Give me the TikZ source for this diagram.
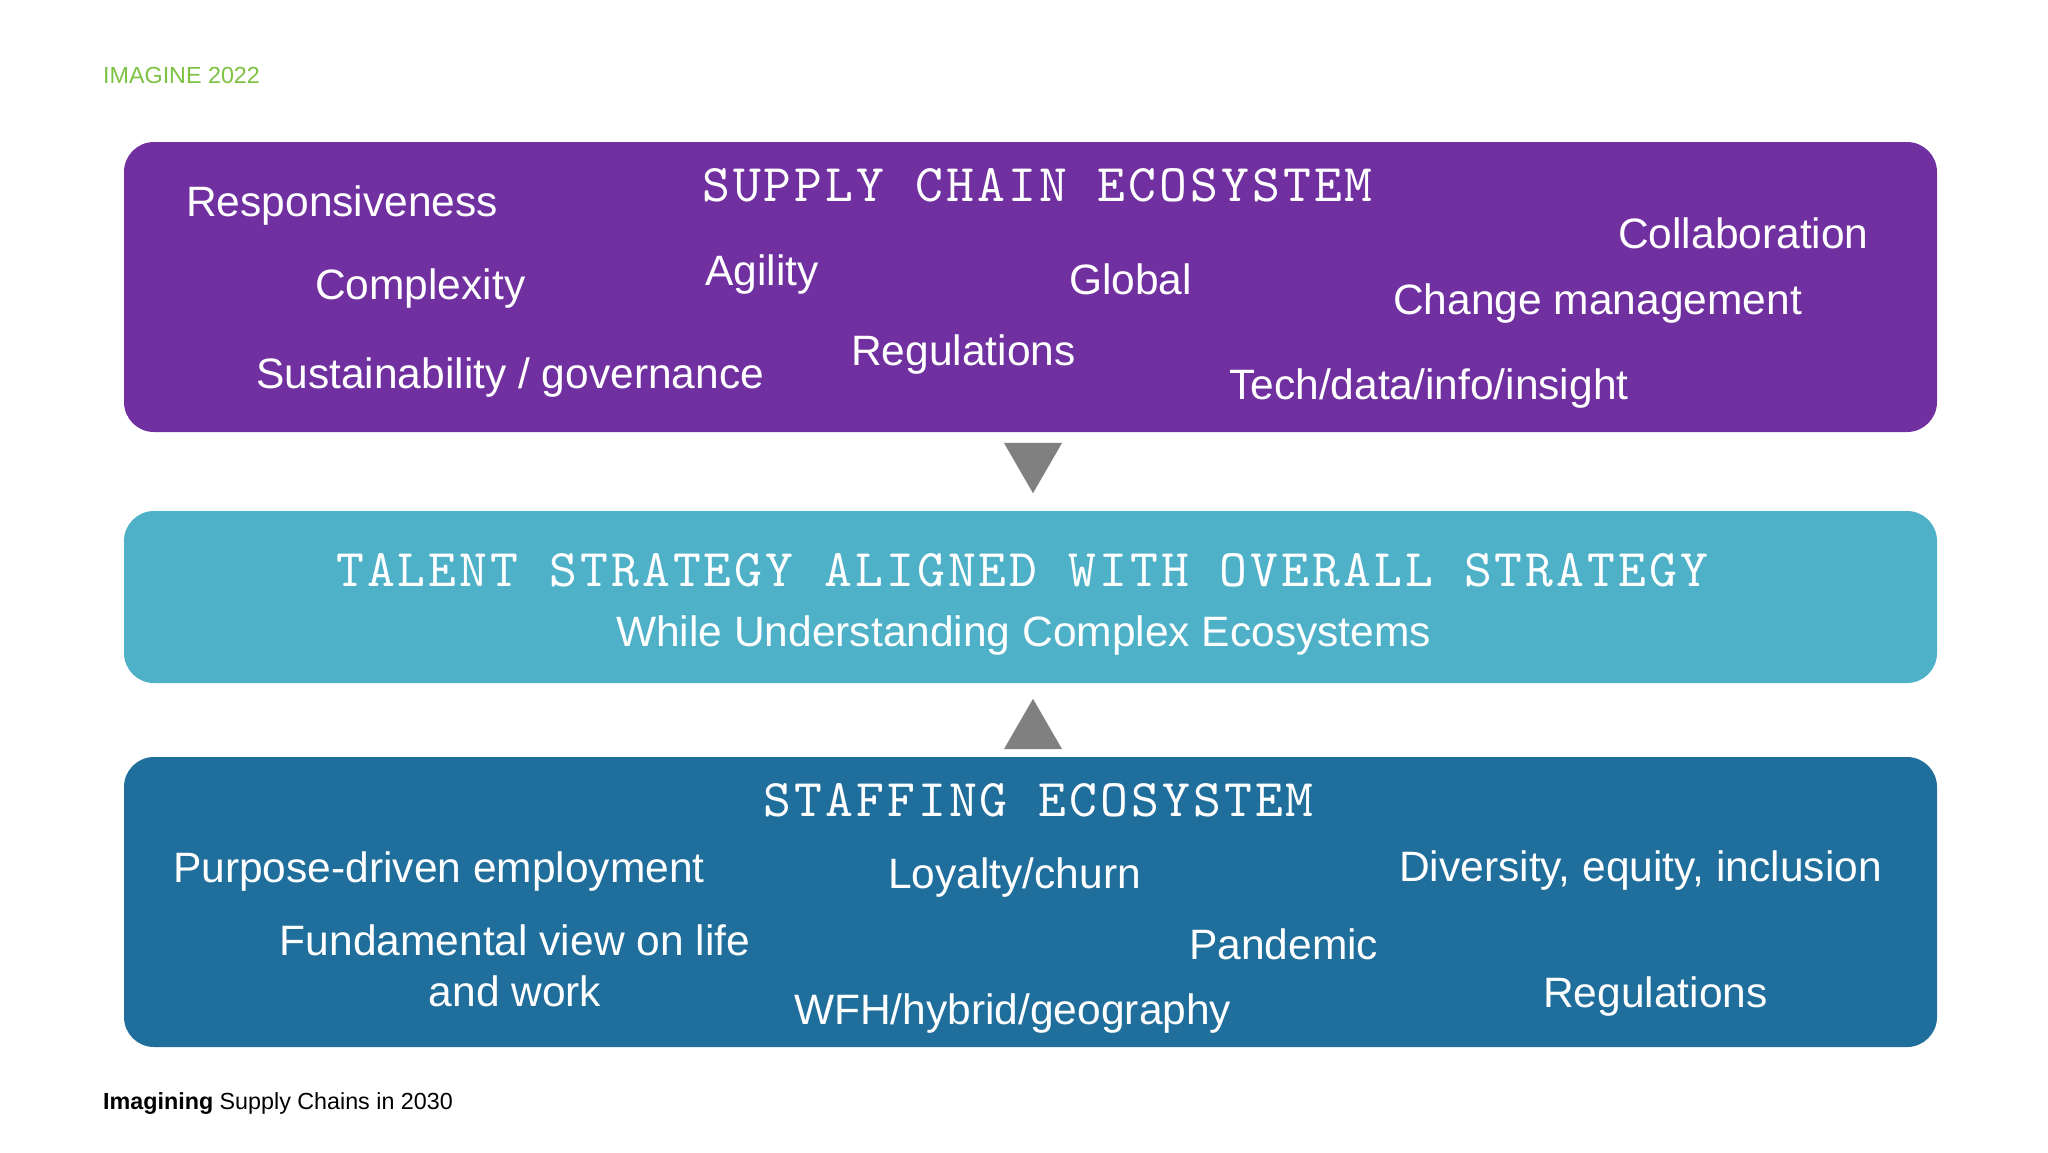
\documentclass[tikz,border=0pt]{standalone}
\usepackage{fontspec}
\setmainfont{Liberation Sans}
\newfontfamily\hdfont{lmmono10-regular}[Extension=.otf, LetterSpace=5.8]
\usetikzlibrary{shapes.geometric}
\definecolor{scpurple}{HTML}{7030A0}
\definecolor{tsteal}{HTML}{4EB1C8}
\definecolor{seblue}{HTML}{1F6E9B}
\definecolor{imgreen}{HTML}{7DC242}
\definecolor{trigray}{HTML}{808080}
\newcommand{\hd}[1]{{\hdfont #1}}

\begin{document}
\begin{tikzpicture}
                \tikzset{x=1pt, y=-1pt}
                \tikzstyle{panel}=[rectangle, rounded corners=30pt, minimum width=1813pt, inner sep=0pt]
                \tikzstyle{title}=[anchor=base west, inner sep=0pt, text=white, font=\fontsize{53}{60}\selectfont]
                \tikzstyle{word}=[anchor=base west, inner sep=0pt, text=white, font=\fontsize{42.5}{51}\selectfont]
                \tikzstyle{small}=[anchor=base west, inner sep=0pt, font=\fontsize{23.3}{28}\selectfont]
                \tikzstyle{tri}=[regular polygon, regular polygon sides=3, fill=trigray, minimum size=67pt, inner sep=0pt]

                % page
                \fill[white] (0,0) rectangle (2048,1152);
                \useasboundingbox (0,0) rectangle (2048,1152);

                % header and footer
                \draw (103, 83)      node[small, text=imgreen]     (imagine)   {IMAGINE 2022};
                \draw (103, 1109)    node[small]                   (foot)      {\textbf{Imagining} Supply Chains in 2030};

                % panels
                \draw (1030.5, 287)  node[panel, fill=scpurple, minimum height=290pt] (sc) {};
                \draw (1030.5, 597)  node[panel, fill=tsteal, minimum height=172pt]   (ts) {};
                \draw (1030.5, 902)  node[panel, fill=seblue, minimum height=290pt]   (se) {};

                % supply chain ecosystem
                \draw (702, 201)     node[title]   (sctitle)   {\hd{SUPPLY CHAIN ECOSYSTEM}};
                \draw (186, 216)     node[word]    (resp)      {Responsiveness};
                \draw (315, 299)     node[word]    (cplx)      {Complexity};
                \draw (256, 388)     node[word]    (sust)      {Sustainability / governance};
                \draw (705, 285)     node[word]    (agil)      {Agility};
                \draw (851, 365)     node[word]    (regs)      {Regulations};
                \draw (1069, 294)    node[word]    (glob)      {Global};
                \draw (1618, 248)    node[word]    (collab)    {Collaboration};
                \draw (1393, 314)    node[word]    (change)    {Change management};
                \draw (1229, 399)    node[word]    (tech)      {Tech/data/info/insight};

                % talent strategy
                \draw (336, 586)     node[title]   (tstitle)   {\hd{TALENT STRATEGY ALIGNED WITH OVERALL STRATEGY}};
                \draw (616, 646)     node[word]    (while)     {While Understanding Complex Ecosystems};

                % staffing ecosystem
                \draw (763.5, 816)   node[title]   (setitle)   {\hd{STAFFING ECOSYSTEM}};
                \draw (173, 882)     node[word]    (purp)      {Purpose-driven employment};
                \draw (515, 966)     node[word, anchor=center, align=center] (fund) {Fundamental view on life\\and work};
                \draw (888, 888)     node[word]    (loyal)     {Loyalty/churn};
                \draw (794, 1024)    node[word]    (wfh)       {WFH/hybrid/geography};
                \draw (1189, 959)    node[word]    (pand)      {Pandemic};
                \draw (1399, 881)    node[word]    (divers)    {Diversity, equity, inclusion};
                \draw (1543, 1007)   node[word]    (seregs)    {Regulations};

                % arrow heads between panels
                \draw (1033, 459.7)  node[tri, shape border rotate=180] (down) {};
                \draw (1033, 732.3)  node[tri]                           (up)   {};
            \end{tikzpicture}
\end{document}
